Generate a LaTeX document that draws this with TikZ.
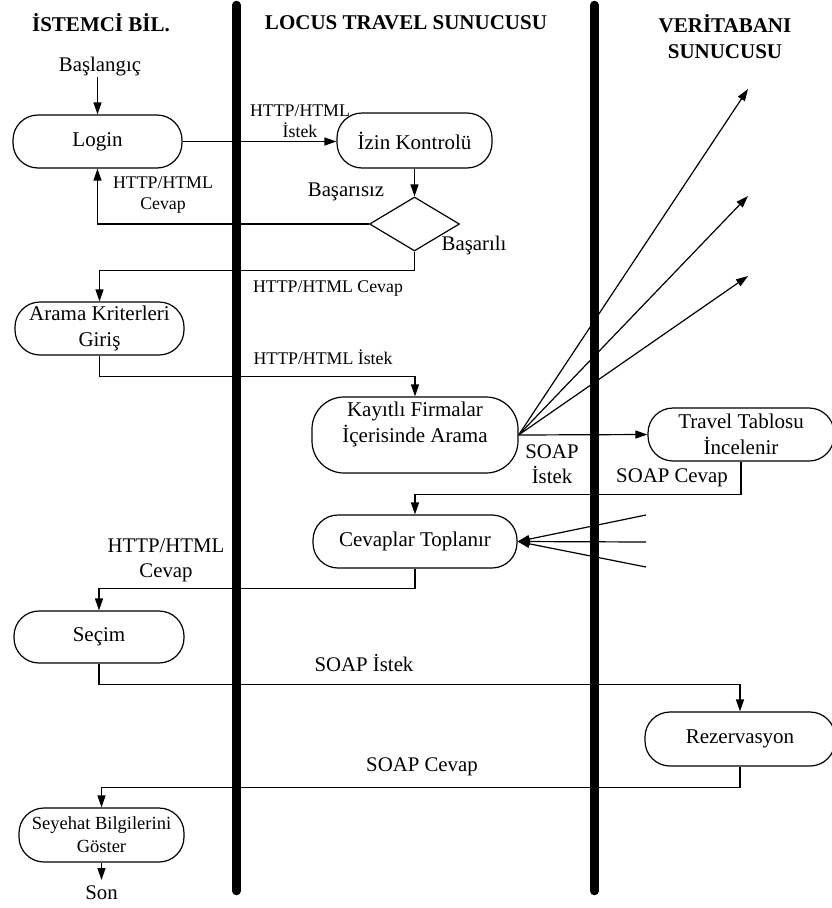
\documentclass[tikz,border=0pt]{standalone}
\usepackage{fontspec}
\setmainfont{Liberation Serif}
\usetikzlibrary{arrows.meta,shapes.geometric}
\begin{document}
\begin{tikzpicture}[x=1pt,y=-1pt,
  lane/.style={line width=8.5pt, line cap=round},
  act/.style={draw, line width=1.2pt, rounded corners=25pt, inner sep=0pt, align=center,
              font=\fontsize{21}{26}\selectfont},
  conn/.style={line width=1.2pt},
  arr/.style={conn, -{Triangle[length=12pt,width=8pt]}},
  lbl/.style={inner sep=0pt, align=center, font=\fontsize{20.8}{25}\selectfont},
  small/.style={inner sep=0pt, align=center, font=\fontsize{17.8}{21}\selectfont},
  head/.style={inner sep=0pt, align=center, font=\fontsize{21}{26}\selectfont\bfseries},
]
\useasboundingbox (0,0) rectangle (832,908);

% swimlane separators
\draw[lane] (236.5,5) -- (236.5,891);
\draw[lane] (594.5,5) -- (594.5,891);

% lane headings
\node[head] (h1) at (101,23) {İSTEMCİ BİL.};
\node[head] (h2) at (406,23) {LOCUS TRAVEL SUNUCUSU};
\node[head] (h3) at (725,37) {VERİTABANI\\SUNUCUSU};

% activities
\node[lbl] (start) at (100,67) {Başlangıç};
\node[act, minimum width=169pt, minimum height=53pt] (login) at (97.5,141.5) {Login};
\node[act, minimum width=155pt, minimum height=55pt] (izin) at (414.5,140.5) {İzin Kontrolü};
\node[draw, diamond, line width=1.2pt, inner sep=0pt, minimum width=90pt, minimum height=54pt] (dec) at (414.5,224) {};
\node[act, minimum width=169pt, minimum height=53pt] (arama) at (99.5,328.5) {Arama Kriterleri\\Giriş};
\node[act, rounded corners=32pt, minimum width=206pt, minimum height=76pt] (kayit) at (415,435)
  {Kayıtlı Firmalar\\İçerisinde Arama\\[0pt]\mbox{}};
\node[act, minimum width=186pt, minimum height=53pt] (travel) at (741,434.5) {Travel Tablosu\\İncelenir};
\node[act, minimum width=204pt, minimum height=53pt] (topla) at (415,541.5) {Cevaplar Toplanır};
\node[act, minimum width=170pt, minimum height=52pt] (secim) at (99,637) {Seçim};
\node[act, minimum width=190pt, minimum height=54pt] (rez) at (740,739) {Rezervasyon};
\node[act, minimum width=165pt, minimum height=54pt, font=\fontsize{18.5}{23}\selectfont] (goster) at (101.5,835) {Seyehat Bilgilerini\\Göster};
\node[lbl, anchor=north, inner sep=6pt] (son) at (101.5,880) {Son};

% open ends of the database requests and replies
\coordinate (db1) at (748,89);
\coordinate (db2) at (748,196);
\coordinate (db3) at (748,276);
\coordinate (in1) at (646,515);
\coordinate (in2) at (646,542);
\coordinate (in3) at (646,567);

% flow
\draw[arr] (login.north |- start.south) -- (login.north);
\draw[arr] (login.east) -- (izin.west |- login.east);
\draw[arr] (izin.south) -- (dec.north);
\draw[arr] (dec.west) -| (login.south);
\draw[arr] (dec.south) -- ++(0,19) -| (arama.north);
\draw[arr] (arama.south) -- ++(0,21) -| (kayit.north);
\draw[arr] (kayit.east) -- (db1);
\draw[arr] (kayit.east) -- (db2);
\draw[arr] (kayit.east) -- (db3);
\draw[arr] (kayit.east) -- (travel.west);
\draw[arr] (travel.south) -- ++(0,33) -| (topla.north);
\draw[arr] (in1) -- (topla.east);
\draw[arr] (in2) -- (topla.east);
\draw[arr] (in3) -- (topla.east);
\draw[arr] (topla.south) -- ++(0,20) -| (secim.north);
\draw[arr] (secim.south) -- ++(0,21) -| (rez.north);
\draw[arr] (rez.south) -- ++(0,21) -| (goster.north);
\draw[arr] (goster.south) -- (son.north);

% connector labels
\node[small] (t1) at (300,121) {HTTP/HTML\\İstek};
\node[lbl] (fail) at (346,192) {Başarısız};
\node[lbl] (ok) at (474,245) {Başarılı};
\node[small] (t2) at (163,195) {HTTP/HTML\\Cevap};
\node[small] (t3) at (328,288) {HTTP/HTML Cevap};
\node[small] (t4) at (323,357) {HTTP/HTML İstek};
\node[lbl] (s1) at (552,464) {SOAP\\İstek};
\node[lbl] (s2) at (672,478) {SOAP Cevap};
\node[lbl] (t5) at (166,560) {HTTP/HTML\\Cevap};
\node[lbl] (s3) at (364,663) {SOAP İstek};
\node[lbl] (s4) at (422,767) {SOAP Cevap};
\end{tikzpicture}
\end{document}
